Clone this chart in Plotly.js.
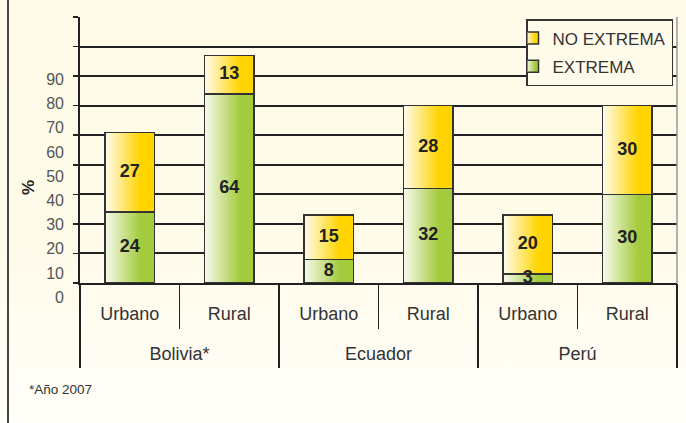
<!DOCTYPE html>
<html><head><meta charset="utf-8">
<script src="https://cdn.plot.ly/plotly-3.0.1.min.js"></script>
<style>
html,body{margin:0;padding:0;}
#chart{width:686px;height:423px;background:linear-gradient(#fffbe8 0%, #fffbea 55%, #fffef8 100%);}
</style></head><body><div id="chart"></div>
<script>
// ---- data ----
const countries = ['Bolivia*','Bolivia*','Ecuador','Ecuador','Perú','Perú'];
const areas = ['Urbano','Rural','Urbano','Rural','Urbano','Rural'];
const extrema = [24, 64, 8, 32, 3, 30];
const noExtrema = [27, 13, 15, 28, 20, 30];
const seriesNames = ['EXTREMA', 'NO EXTREMA'];
const yTickVals = [0, 10, 20, 30, 40, 50, 60, 70, 80, 90];
const yTickText = yTickVals.map(String);
const yTitle = '%';
const footnote = '*Año 2007';

// category keys (one per bar) and the country groups
const xKeys = countries.map((c, i) => c + ' / ' + areas[i]);
const countryList = [...new Set(countries)];

// ---- styles ----
const sans = '"Liberation Sans", Arial, sans-serif';
const dark = '#222';

function barTrace(name, vals, color, rank, group) {
  return {
    type: 'bar', name: name, legendrank: rank, legendgroup: group,
    x: xKeys, y: vals,
    marker: {color: color, line: {color: '#333', width: 1.5}},
    hoverinfo: 'skip'
  };
}

// value labels: centred in each stacked segment, computed from the data
const extMid = extrema.map(v => v / 2);
const noExtMid = noExtrema.map((v, i) => extrema[i] + v / 2);
function labelTrace(mids, vals) {
  return {
    type: 'scatter', mode: 'text', x: xKeys, y: mids,
    text: vals.map(String), textposition: 'middle center',
    textfont: {family: sans, size: 18, color: '#222', weight: 'bold'},
    showlegend: false, hoverinfo: 'skip', cliponaxis: false
  };
}

const data = [
  barTrace(seriesNames[0], extrema, '#a6cd3f', 2, 'a'),
  barTrace(seriesNames[1], noExtrema, '#ffd400', 1, 'b'),
  labelTrace(extMid, extrema),
  labelTrace(noExtMid, noExtrema),
  {type: 'scatter', mode: 'markers', x: countryList, y: countryList.map(() => null),
   xaxis: 'x2', yaxis: 'y', showlegend: false, hoverinfo: 'skip'},
  {type: 'scatter', mode: 'markers', x: [], y: [], xaxis: 'x', yaxis: 'y2', showlegend: false, hoverinfo: 'skip'}
];

const layout = {
  width: 686, height: 423,
  margin: {l: 80, r: 9, t: 17, b: 118},
  paper_bgcolor: 'rgba(0,0,0,0)', plot_bgcolor: 'rgba(0,0,0,0)',
  barmode: 'stack', bargap: 0.5,
  font: {family: sans, color: '#333'},
  showlegend: true,
  legend: {
    x: 0.9933, xanchor: 'right', y: 0.993, yanchor: 'top',
    bgcolor: '#fffbea', bordercolor: '#333', borderwidth: 1.5,
    font: {family: sans, size: 17, color: '#333'},
    traceorder: 'grouped', indentation: -15, tracegroupgap: 3
  },
  xaxis: {
    type: 'category', anchor: 'y', categoryorder: 'array', categoryarray: xKeys,
    tickmode: 'array', tickvals: xKeys, ticktext: areas,
    showline: true, linecolor: dark, linewidth: 2,
    ticks: 'outside', tickson: 'boundaries', ticklen: 44, tickcolor: dark, tickwidth: 1.5,
    tickfont: {family: sans, size: 18, color: '#333'},
    ticklabelstandoff: 13,
    showgrid: false, zeroline: false, fixedrange: true
  },
  xaxis2: {
    type: 'category', overlaying: 'x', anchor: 'y', side: 'bottom',
    categoryorder: 'array', categoryarray: countryList, range: [-0.5, countryList.length - 0.5],
    showline: false,
    ticks: 'outside', tickson: 'boundaries', ticklen: 84, tickcolor: dark, tickwidth: 1.5,
    tickfont: {family: sans, size: 18, color: '#333'},
    ticklabelstandoff: 58,
    showgrid: false, zeroline: false, fixedrange: true
  },
  yaxis: {
    domain: [0.0764, 1], anchor: 'x', range: [0, 90], tickvals: yTickVals,
    showticklabels: false, ticks: 'outside', ticklen: 5, tickcolor: dark, tickwidth: 1.5,
    showline: true, linecolor: dark, linewidth: 2,
    showgrid: true, gridcolor: dark, gridwidth: 2, zeroline: false,
    fixedrange: true
  },
  yaxis2: {
    domain: [0, 1], anchor: 'x', range: [-3.18, 115.73],
    tickvals: yTickVals, ticktext: yTickText,
    showline: false, showgrid: false, zeroline: false, ticks: '',
    tickfont: {family: sans, size: 16, color: '#555'},
    ticklabelstandoff: 15, fixedrange: true
  },
  shapes: [
    {type: 'line', xref: 'paper', yref: 'y domain', x0: 1, x1: 1, y0: 0, y1: 1,
     line: {color: '#999', width: 1.5}},
    {type: 'line', xref: 'paper', yref: 'paper', x0: -0.1206, x1: -0.1206, y0: -0.42, y1: 1.07,
     line: {color: '#444', width: 2}}
  ],
  annotations: [
    {text: '<b>' + yTitle + '</b>', xref: 'paper', yref: 'paper', x: -0.0871, y: 0.406,
     xanchor: 'center', yanchor: 'middle', textangle: -90, showarrow: false,
     font: {family: sans, size: 17, color: dark}},
    {text: footnote, xref: 'paper', yref: 'paper', x: -0.0888, y: -0.295,
     xanchor: 'left', yanchor: 'middle', showarrow: false,
     font: {family: sans, size: 13.5, color: '#333'}}
  ]
};

Plotly.newPlot('chart', data, layout, {staticPlot: true, displayModeBar: false}).then(function (gd) {
  const ns = 'http://www.w3.org/2000/svg';
  const svg = gd.querySelector('.main-svg');
  let defs = svg.querySelector('defs');
  if (!defs) { defs = document.createElementNS(ns, 'defs'); svg.insertBefore(defs, svg.firstChild); }
  function grad(id, c0, c1) {
    const g = document.createElementNS(ns, 'linearGradient');
    g.setAttribute('id', id);
    g.setAttribute('x1', '0'); g.setAttribute('x2', '1');
    g.setAttribute('y1', '0'); g.setAttribute('y2', '0');
    [[0, c0], [0.72, c1], [1, c1]].forEach(function (s) {
      const st = document.createElementNS(ns, 'stop');
      st.setAttribute('offset', s[0]); st.setAttribute('stop-color', s[1]);
      g.appendChild(st);
    });
    defs.appendChild(g);
  }
  grad('gGreen', '#f8faee', '#a3cb3c');
  grad('gYellow', '#fffcf0', '#ffd400');
  const fills = {'EXTREMA': 'url(#gGreen)', 'NO EXTREMA': 'url(#gYellow)'};
  function apply(sel, pathSel) {
    gd.querySelectorAll(sel).forEach(function (tr) {
      const d = tr.__data__;
      const t = d && d[0] && d[0].trace;
      const f = t && fills[t.name];
      if (f) tr.querySelectorAll(pathSel).forEach(function (p) { p.style.fill = f; });
    });
  }
  apply('.barlayer .trace', 'path');
  apply('.legend .traces', '.legendpoints path');
});
</script>
</body></html>
